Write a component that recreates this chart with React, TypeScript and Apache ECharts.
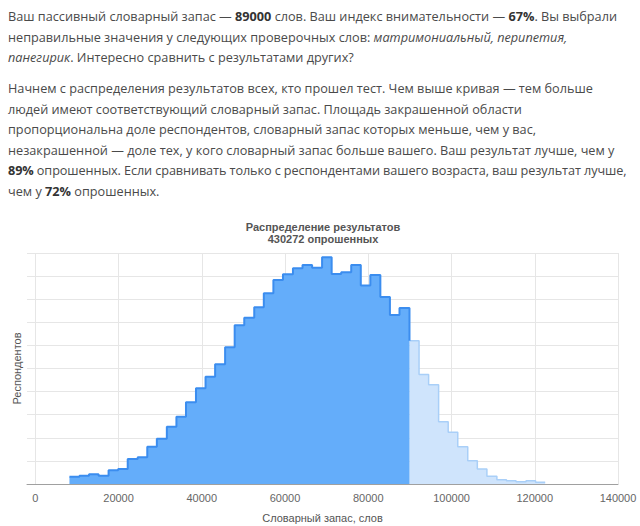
import React, { useEffect, useRef } from 'react';
import * as echarts from 'echarts';

// bins below the user's result (start of each bin, respondents)
const darkStarts = [
  8200, 10600, 12900, 15200, 17600, 19900, 22200, 24600, 26900, 29200,
  31600, 33900, 36200, 38600, 40900, 43200, 45600, 47900, 50200, 52600,
  54900, 57200, 59500, 61900, 64200, 66500, 68900, 71200, 73500, 75900,
  78200, 80500, 82900, 85200, 87500,
];
const darkCounts = [
  630, 720, 840, 720, 1190, 1300, 2160, 2310, 3230, 3920,
  4960, 5830, 7070, 8290, 9290, 10360, 11840, 13740, 14400, 15300,
  16510, 17660, 18160, 18680, 18960, 18730, 19630, 18180, 18330, 18960,
  17190, 18100, 16190, 14630, 15240,
];

// bins above the user's result
const lightStarts = [
  89900, 92200, 94500, 96900, 99200, 101500, 103900, 106200, 108500, 110900,
  113200, 115500, 117900, 120200,
];
const lightCounts = [
  12410, 9480, 8600, 5390, 4480, 3230, 2020, 1300, 680, 370,
  280, 190, 280, 150,
];
const lastBinEnd = 122500;

const xTicks = [0, 20000, 40000, 60000, 80000, 100000, 120000, 140000];

const textColor = '#4a4a4a';
const boldColor = '#333';

const App: React.FC = () => {
  const chartRef = useRef<HTMLDivElement>(null);

  useEffect(() => {
    if (!chartRef.current) return;
    const chart = echarts.init(chartRef.current, undefined, { renderer: 'svg' });

    const splitX = lightStarts[0];
    const darkData: number[][] = darkStarts.map((x, i) => [x, darkCounts[i]]);
    darkData.push([splitX, darkCounts[darkCounts.length - 1]]);
    darkData.push([splitX, lightCounts[0]]);

    const lightData: number[][] = lightStarts.map((x, i) => [x, lightCounts[i]]);
    lightData.push([lastBinEnd, lightCounts[lightCounts.length - 1]]);

    const font = 'Arial, "Liberation Sans", sans-serif';

    const option: echarts.EChartsOption = {
      animation: false,
      graphic: [
        {
          type: 'text',
          x: 323,
          y: 221,
          style: {
            text: 'Распределение результатов\n430272 опрошенных',
            align: 'center',
            fill: '#555',
            font: `bold 11px ${font}`,
            lineHeight: 12,
          },
        },
      ],
      grid: { left: 27, right: 22, top: 253, bottom: 42 },
      xAxis: {
        type: 'value',
        min: -2000,
        max: 140000,
        name: 'Словарный запас, слов',
        nameLocation: 'middle',
        nameGap: 28,
        nameTextStyle: { color: '#555', fontSize: 11, fontFamily: font },
        axisLine: { show: true, lineStyle: { color: '#a0a0a0', width: 1 } },
        axisTick: { show: false, customValues: xTicks },
        axisLabel: {
          customValues: xTicks,
          formatter: (v: number) => String(v),
          color: '#666',
          fontSize: 11,
          fontFamily: font,
          margin: 8,
        },
        splitLine: { show: true, lineStyle: { color: '#e6e6e6' } },
      },
      yAxis: {
        type: 'value',
        min: 0,
        max: 20000,
        interval: 2000,
        name: 'Респондентов',
        nameLocation: 'middle',
        nameGap: 5,
        nameTextStyle: { color: '#555', fontSize: 11, fontFamily: font },
        axisLine: { show: false },
        axisTick: { show: false },
        axisLabel: { show: false },
        splitLine: { show: true, lineStyle: { color: '#e6e6e6' } },
      },
      series: [
        {
          type: 'line',
          step: 'end',
          symbol: 'none',
          data: lightData,
          lineStyle: { color: '#a9cff8', width: 1.5 },
          areaStyle: { color: '#cfe4fc', opacity: 1 },
        },
        {
          type: 'line',
          step: 'end',
          symbol: 'none',
          data: darkData,
          lineStyle: { color: '#3b8def', width: 2 },
          areaStyle: { color: '#64adfa', opacity: 1 },
        },
      ],
    };

    chart.setOption(option);

    return () => {
      chart.dispose();
    };
  }, []);

  const pStyle: React.CSSProperties = {
    margin: 0,
    lineHeight: '20.5px',
    whiteSpace: 'nowrap',
  };
  const b: React.CSSProperties = { fontWeight: 'bold', color: boldColor };

  return (
    <div style={{ position: 'fixed', left: 0, top: 0, width: 640, height: 526, background: '#fff' }}>
      <div ref={chartRef} style={{ position: 'absolute', left: 0, top: 0, width: 640, height: 526 }} />
      <div
        style={{
          position: 'absolute',
          left: 8,
          top: 6,
          fontFamily: '"Open Sans", sans-serif',
          fontSize: 12.7,
          color: textColor,
          pointerEvents: 'none',
        }}
      >
        <p style={pStyle}>
          Ваш пассивный словарный запас — <span style={b}>89000</span> слов. Ваш индекс внимательности — <span style={b}>67%</span>. Вы выбрали
          <br />
          неправильные значения у следующих проверочных слов: <i>матримониальный, перипетия,</i>
          <br />
          <i>панегирик</i>. Интересно сравнить с результатами других?
        </p>
        <p style={{ ...pStyle, marginTop: 10.5 }}>
          Начнем с распределения результатов всех, кто прошел тест. Чем выше кривая — тем больше
          <br />
          людей имеют соответствующий словарный запас. Площадь закрашенной области
          <br />
          пропорциональна доле респондентов, словарный запас которых меньше, чем у вас,
          <br />
          незакрашенной — доле тех, у кого словарный запас больше вашего. Ваш результат лучше, чем у
          <br />
          <span style={{ letterSpacing: '-0.1px' }}>
            <span style={b}>89%</span> опрошенных. Если сравнивать только с респондентами вашего возраста, ваш результат лучше,
          </span>
          <br />
          чем у <span style={b}>72%</span> опрошенных.
        </p>
      </div>
    </div>
  );
};

export default App;
